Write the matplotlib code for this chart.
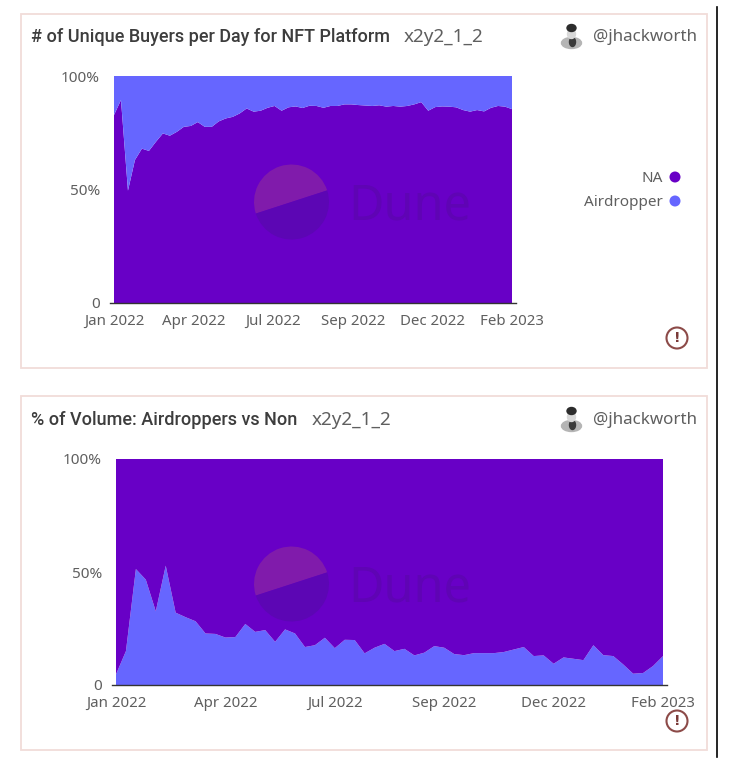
# -*- coding:utf-8 -*-
import numpy as np
import matplotlib.pyplot as plt
from matplotlib.patches import Circle, Ellipse, Rectangle, Wedge

buyers_na = [82.8, 89.4, 49.5, 63, 68, 67, 71, 74.7, 73.7, 75.4, 77.6, 78, 79.7, 77.6, 77.6, 80, 81.3, 82, 83.5,
             85.7, 84.3, 84.7, 86, 86.8, 84.7, 86.2, 86.6, 85.9, 86.9, 86.8, 86, 86.8, 86.8, 87.5, 87.5, 87.2,
             87, 86.8, 87.1, 86.5, 86.8, 86.5, 86.8, 87.5, 88.5, 84.7, 86.3, 86.6, 86.5, 86.2, 85, 84.3, 85,
             84.4, 86, 86.8, 86.5, 85.4]
volume_airdropper = [4.7, 15, 51.3, 46.6, 32.6, 52.8, 32, 30, 28.2, 22.8, 22.6, 21, 21.2, 27, 23.5, 24.3, 19.1,
                     24.6, 22.8, 16.8, 17.6, 20.9, 16.3, 20, 19.9, 14, 16.5, 18.2, 15, 16, 13.1, 14.3, 17.2,
                     16.5, 13.7, 13.2, 14.1, 14.1, 14.1, 14.6, 15.7, 16.8, 12.8, 13.1, 9.4, 12.2, 11.6, 11,
                     17.6, 13.2, 12.8, 9.1, 5, 5.3, 8.4, 12.8]
date_labels = ['Jan 2022', 'Apr 2022', 'Jul 2022', 'Sep 2022', 'Dec 2022', 'Feb 2023']
pct_ticks = [0, 50, 100]
pct_labels = ['0', '50%', '100%']
legend_labels = ['NA', 'Airdropper']

COLOR_NA = '#6800c6'
COLOR_AIR = '#6666ff'
COLOR_TEXT = '#5f5f5f'
FONT = 'Noto Sans'
W, H = 733, 764


class C_Chart_Plot():
    def __init__(self):
        self.fig = plt.figure(figsize=(W / 100, H / 100), dpi=100)
        self.ax_bg = self.pixelAxes(0)
        self.ax_top = self.pixelAxes(5)

    def pixelAxes(self, zorder):
        ax = self.fig.add_axes([0, 0, 1, 1], zorder=zorder)
        ax.set_xlim(0, W)
        ax.set_ylim(H, 0)
        ax.axis('off')
        return ax

    def plotCard(self, top, bottom, y_title, title, title_width):
        self.ax_bg.add_patch(Rectangle((20.5, top), 686.5, bottom - top, facecolor='white',
                                       edgecolor='#f1dcd9', linewidth=1.3))
        self.ax_bg.text(31, y_title + 1, title, fontsize=13.0, color='#3d3d3d', family='Roboto',
                        weight='medium', va='center')
        self.ax_bg.text(31 + title_width, y_title + 1, 'x2y2_1_2', fontsize=13.6, color=COLOR_TEXT,
                        family=FONT, va='center')
        self.ax_bg.text(697, y_title + 1, '@jhackworth', fontsize=12.2, color=COLOR_TEXT, family=FONT,
                        ha='right', va='center')
        self.plotAvatar(y_title - 1)

    def plotAvatar(self, y):
        # shoulders, head, hat
        self.ax_bg.add_patch(Ellipse((571.5, y + 8), 20, 11, color='#b5b5b5'))
        self.ax_bg.add_patch(Ellipse((572.5, y + 7), 6, 9, color='#3a3a3a'))
        self.ax_bg.add_patch(Ellipse((571.5, y - 1), 8, 9, color='#d8d8d8'))
        self.ax_bg.add_patch(Ellipse((571.5, y - 7), 9, 7, color='#2c2c2c'))

    def plotAlert(self, x, y):
        self.ax_top.add_patch(Circle((x, y), 10.5, facecolor='none', edgecolor='#8c4a48', linewidth=1.5))
        self.ax_top.text(x, y, '!', fontsize=10, weight='bold', color='#7a3a38', family='DejaVu Sans',
                         ha='center', va='center')

    def plotWatermark(self, x, y):
        self.ax_top.add_patch(Wedge((x, y), 37.5, 162, 342, color='#801bab', linewidth=0))
        self.ax_top.add_patch(Wedge((x, y), 37.5, -18, 162, color='#5c06b4', linewidth=0))
        self.ax_top.text(x + 118, y + 4, 'Dune', fontsize=35, color='#5f04b4', family=FONT,
                         ha='center', va='center')

    def plotArea(self, px_left, px_right, px_top, px_bottom, series, colors):
        ax = self.fig.add_axes([px_left / W, 1 - px_bottom / H, (px_right - px_left) / W, (px_bottom - px_top) / H],
                               zorder=2)
        x_d = np.arange(len(series[0]))
        ax.stackplot(x_d, series, colors=colors, linewidth=0)
        ax.set_xlim(0, len(x_d) - 1)
        ax.set_ylim(0, 100)
        for side in ['top', 'right', 'left', 'bottom']:
            ax.spines[side].set_visible(False)
        ax.set_yticks(pct_ticks, minor=False)
        ax.set_yticklabels(pct_labels, fontsize=11, color=COLOR_TEXT, family=FONT, va='center_baseline')
        ax.set_xticks(np.linspace(0, len(x_d) - 1, len(date_labels)), minor=False)
        ax.set_xticklabels(date_labels, fontsize=10.8, color=COLOR_TEXT, family=FONT)
        ax.tick_params(axis='x', length=0, pad=8)
        ax.tick_params(axis='y', length=0, pad=10)
        ax.patch.set_alpha(0)
        # baseline runs a little past the plot on both sides
        self.ax_top.plot([px_left - 4, px_right + 4], [px_bottom, px_bottom], color='#333333', linewidth=1)
        return ax

    def plotLegend(self):
        for y, label, color in zip([177, 201], legend_labels, [COLOR_NA, COLOR_AIR]):
            self.ax_top.text(663, y + 1, label, fontsize=11, color=COLOR_TEXT, family=FONT, ha='right', va='center')
            self.ax_top.add_patch(Circle((675, y), 5.5, color=color, linewidth=0))


def main():
    cp = C_Chart_Plot()
    cp.plotCard(14, 368, 36, '# of Unique Buyers per Day for NFT Platform', 373)
    cp.plotCard(396, 750, 419, '% of Volume: Airdroppers vs Non', 281)

    buyers_air = [100 - v for v in buyers_na]
    volume_na = [100 - v for v in volume_airdropper]
    cp.plotArea(114, 512, 76, 303, [buyers_na, buyers_air], [COLOR_NA, COLOR_AIR])
    cp.plotArea(116, 663, 459, 685, [volume_airdropper, volume_na], [COLOR_AIR, COLOR_NA])

    cp.plotWatermark(291.5, 202)
    cp.plotWatermark(291.5, 584)
    cp.plotLegend()
    cp.plotAlert(677, 338)
    cp.plotAlert(677, 721)
    cp.ax_top.plot([717, 717], [7, 757], color='black', linewidth=1.2)  # screenshot edge

    cp.fig.savefig('out.png', dpi=100)


if __name__ == "__main__":
    main()
